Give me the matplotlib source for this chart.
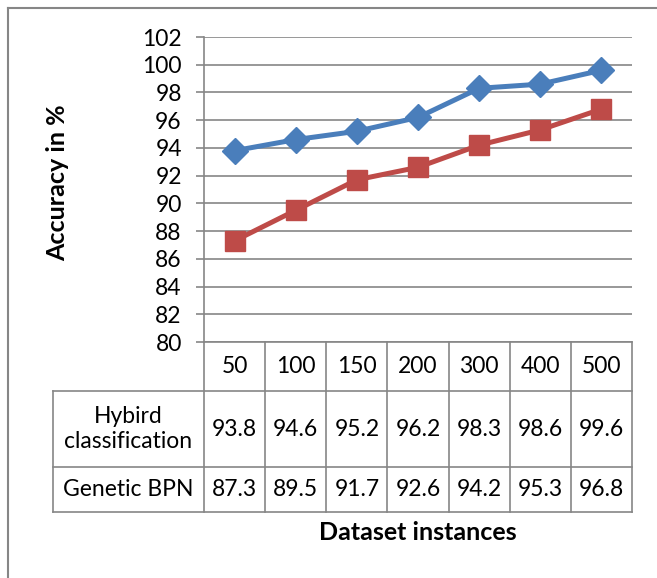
import matplotlib.pyplot as plt
from matplotlib.lines import Line2D

plt.rcParams['font.family'] = ['Lato', 'DejaVu Sans']

instances = ['50', '100', '150', '200', '300', '400', '500']
hybrid = [93.8, 94.6, 95.2, 96.2, 98.3, 98.6, 99.6]
genetic = [87.3, 89.5, 91.7, 92.6, 94.2, 95.3, 96.8]
row_labels = ['Hybird\nclassification', 'Genetic BPN']

W, H = 657, 578
grid_col = '#868686'
fs = 16.5

fig = plt.figure(figsize=(W / 100, H / 100), dpi=100)

# plot area in pixels: left 204, right 632, top 37, bottom 342
ax = fig.add_axes([204 / W, 1 - 342 / H, 428 / W, 305 / H])
ax.set_xlim(-0.5, len(instances) - 0.5)
ax.set_ylim(80, 102)
ax.set_yticks(range(80, 103, 2))
ax.set_xticks([])
ax.yaxis.grid(True, color=grid_col, linewidth=1.2)
ax.set_axisbelow(True)
for s in ['top', 'right', 'bottom']:
    ax.spines[s].set_visible(False)
ax.spines['left'].set_color(grid_col)
ax.spines['left'].set_linewidth(1.2)
ax.tick_params(axis='y', length=6, width=1.2, color=grid_col,
               labelsize=fs, pad=10)

x = range(len(instances))
ax.plot(x, hybrid, color='#4A7EBB', linewidth=3.6, marker='D',
        markersize=13, clip_on=False, zorder=3)
ax.plot(x, genetic, color='#BE4B48', linewidth=3.6, marker='s',
        markersize=14, clip_on=False, zorder=3)

# data table under the plot (axes fraction coords)
def fy(py):
    return (342 - py) / 305

def fx(px):
    return (px - 204) / 428

tr = ax.transAxes
ncol = len(instances)
y_head, y_r1, y_r2 = fy(391), fy(467), fy(512)
x_left = fx(53)
kw = dict(transform=tr, color=grid_col, linewidth=1.2, clip_on=False)

ax.add_line(Line2D([0, 1], [0, 0], **kw))
ax.add_line(Line2D([x_left, 1], [y_head, y_head], **kw))
ax.add_line(Line2D([x_left, 1], [y_r1, y_r1], **kw))
ax.add_line(Line2D([x_left, 1], [y_r2, y_r2], **kw))
ax.add_line(Line2D([x_left, x_left], [y_head, y_r2], **kw))
for i in range(ncol + 1):
    ax.add_line(Line2D([i / ncol, i / ncol], [0, y_r2], **kw))

for i, lab in enumerate(instances):
    xc = (i + 0.5) / ncol
    ax.text(xc, (0 + y_head) / 2, lab, transform=tr, ha='center',
            va='center', fontsize=fs)
    ax.text(xc, (y_head + y_r1) / 2, f'{hybrid[i]:.1f}', transform=tr,
            ha='center', va='center', fontsize=fs)
    ax.text(xc, (y_r1 + y_r2) / 2, f'{genetic[i]:.1f}', transform=tr,
            ha='center', va='center', fontsize=fs)

ax.text((x_left + 0) / 2, (y_head + y_r1) / 2, row_labels[0], transform=tr,
        ha='center', va='center', fontsize=fs, linespacing=1.2)
ax.text((x_left + 0) / 2, (y_r1 + y_r2) / 2, row_labels[1], transform=tr,
        ha='center', va='center', fontsize=fs)

fig.text(58 / W, 1 - 183 / H, 'Accuracy in %', rotation=90, ha='center',
         va='center', fontsize=18, fontweight='bold')
fig.text(418 / W, 1 - 533 / H, 'Dataset instances', ha='center',
         va='center', fontsize=18, fontweight='bold')

# outer chart frame (cropped at right and bottom)
fig.add_artist(Line2D([8 / W, 1], [1 - 8 / H, 1 - 8 / H],
                      transform=fig.transFigure, color=grid_col, linewidth=1.5))
fig.add_artist(Line2D([8 / W, 8 / W], [0, 1 - 8 / H],
                      transform=fig.transFigure, color=grid_col, linewidth=1.5))

fig.savefig('out.png', dpi=100)
